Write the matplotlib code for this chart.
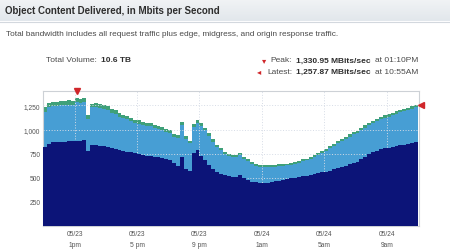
import matplotlib.pyplot as plt
import numpy as np
from matplotlib.colors import LinearSegmentedColormap

W, H = 450, 253
FONT = "Liberation Sans"

NAVY = "#0C1478"
LIGHT = "#479ED4"
GREEN = "#3FA079"
RED = "#D0262A"
INK = "#2E2E2E"
MUTED = "#4A4A4A"
GRID = "#D6DCE6"
FRAME = "#CDD1D6"

# 15-minute samples, 05/23 11:00 -> 05/24 10:45
START_HOUR = 11.0
STEP_HOURS = 0.25

total = [1230, 1275, 1290, 1285, 1300, 1295, 1305, 1300, 1331, 1318, 1328, 1150,
         1270, 1275, 1262, 1250, 1240, 1215, 1200, 1170, 1155, 1140, 1120, 1100,
         1095, 1080, 1070, 1065, 1050, 1040, 1030, 1010, 995, 955, 940, 1075,
         930, 885, 1060, 1100, 1070, 1020, 960, 900, 845, 810, 770, 745,
         738, 735, 755, 720, 690, 665, 645, 632, 628, 630, 632, 635,
         638, 642, 648, 652, 668, 678, 690, 700, 715, 735, 755, 778,
         800, 830, 855, 880, 905, 925, 950, 975, 990, 1020, 1045, 1070,
         1090, 1110, 1135, 1150, 1160, 1175, 1190, 1205, 1215, 1225, 1240, 1258]

edge = [820, 855, 870, 868, 875, 872, 880, 878, 885, 882, 890, 780,
        840, 838, 830, 825, 818, 810, 800, 790, 780, 772, 765, 755,
        745, 738, 730, 722, 718, 712, 705, 695, 680, 655, 620, 715,
        595, 570, 760, 790, 730, 680, 630, 590, 560, 540, 525, 515,
        510, 505, 530, 495, 475, 460, 452, 446, 442, 448, 455, 462,
        470, 478, 487, 495, 502, 508, 515, 522, 533, 540, 548, 556,
        562, 575, 592, 605, 615, 625, 640, 655, 668, 690, 720, 745,
        765, 782, 795, 805, 812, 820, 828, 835, 842, 850, 860, 872]

origin = [45, 45, 45, 45, 45, 45, 45, 45, 45, 45, 45, 40,
          40, 40, 40, 38, 38, 38, 36, 36, 36, 35, 35, 35,
          34, 34, 33, 33, 32, 32, 32, 30, 30, 30, 30, 30,
          30, 28, 30, 30, 30, 28, 28, 26, 26, 25, 25, 24,
          24, 22, 22, 22, 20, 20, 20, 20, 20, 20, 20, 20,
          20, 20, 20, 20, 20, 20, 20, 20, 22, 22, 22, 22,
          22, 22, 24, 24, 24, 24, 25, 25, 25, 25, 25, 25,
          25, 25, 25, 25, 25, 25, 25, 25, 25, 25, 25, 25]

x_ticks = [13, 17, 21, 25, 29, 33]
x_labels = ["05/23\n1pm", "05/23\n5 pm", "05/23\n9 pm", "05/24\n1am", "05/24\n5am", "05/24\n9am"]
y_ticks = [250, 500, 750, 1000, 1250]
y_labels = ["250", "500", "750", "1,000", "1,250"]

peak_hour, peak_value = 13 + 10 / 60, 1330.95
latest_value = 1257.87


def fx(px):
    return px / W


def fy(py):
    return 1 - py / H


def width_of(t):
    return t.get_window_extent(fig.canvas.get_renderer()).width


def fit_width(t, target):
    t.set_fontsize(t.get_fontsize() * target / width_of(t))


plt.rcParams["font.family"] = [FONT, "DejaVu Sans"]
fig = plt.figure(figsize=(W / 100, H / 100), dpi=100)
fig.patch.set_facecolor("white")

# header band
hax = fig.add_axes([0, fy(22), 1, 22 / H])
cmap = LinearSegmentedColormap.from_list("hdr", ["#F1F3F5", "#E2E7EC"])
hax.imshow(np.linspace(0, 1, 50).reshape(-1, 1), aspect="auto", cmap=cmap)
hax.set_axis_off()
fig.add_artist(plt.Line2D([0, 1], [fy(22.5), fy(22.5)], color="#D3D8DE", lw=0.8))

ax = fig.add_axes([fx(43), fy(227), fx(419) - fx(43), (227 - 92) / H])

total = np.array(total, dtype=float)
edge = np.array(edge, dtype=float)
origin = np.array(origin, dtype=float)
hours = START_HOUR + STEP_HOURS * np.arange(len(total))
xe = np.append(hours, hours[-1] + STEP_HOURS)


def ext(a):
    return np.append(a, a[-1])


ax.fill_between(xe, 0, ext(total), step="post", color=GREEN, lw=0, zorder=1)
ax.fill_between(xe, 0, ext(total - origin), step="post", color=LIGHT, lw=0, zorder=2)
ax.fill_between(xe, 0, ext(edge), step="post", color=NAVY, lw=0, zorder=3)

ax.set_xlim(10.97, 35.07)
ax.set_ylim(0, 1400)
ax.set_xticks(x_ticks)
ax.set_xticklabels(x_labels, linespacing=1.75)
ax.set_yticks(y_ticks)
ax.set_yticklabels(y_labels)
ax.tick_params(length=0, labelsize=4.8, colors="#555555")
ax.tick_params(axis="x", pad=3)
ax.tick_params(axis="y", pad=2)
ax.grid(color=GRID, linestyle=(0, (1, 1.8)), linewidth=0.7, zorder=5)
ax.set_axisbelow(False)
for s in ax.spines.values():
    s.set_color(FRAME)
    s.set_linewidth(0.8)

ax.plot(peak_hour, 1400, marker="v", color=RED, ms=4.5, clip_on=False, zorder=6)
ax.plot(35.07 + 0.1, latest_value, marker="<", color=RED, ms=4.5, clip_on=False, zorder=6)

title = fig.text(fx(5), fy(11.5), "Object Content Delivered, in Mbits per Second",
                 fontsize=7, fontweight="bold", color=INK, va="center")
desc = fig.text(fx(6), fy(34), "Total bandwidth includes all request traffic plus edge, midgress, and origin response traffic.",
                fontsize=6, color=MUTED, va="center")
fig.canvas.draw()
fit_width(title, 215)
fit_width(desc, 336)

# size the info lines so value + time span the same 123 px as the reference
rows = [(61, "Peak:", "1,330.95 MBits/sec", "at 01:10PM", "\u25be", 266),
        (72, "Latest:", "1,257.87 MBits/sec", "at 10:55AM", "\u25c2", 261)]
v0 = fig.text(0, 0, rows[0][2], fontsize=6, fontweight="bold")
a0 = fig.text(0, 0, rows[0][3], fontsize=6)
fs = 6 * 119 / (width_of(v0) + width_of(a0))
v0.remove()
a0.remove()

for y, label, value, when, mark, mx in rows:
    fig.text(fx(292), fy(y), label, fontsize=fs, color=MUTED, va="center", ha="right")
    v = fig.text(fx(296), fy(y), value, fontsize=fs, fontweight="bold", color=INK, va="center")
    fig.text(fx(296 + width_of(v) + 4), fy(y), when, fontsize=fs, color=MUTED, va="center")
    fig.text(fx(mx), fy(y), mark, fontsize=fs, color=RED, va="center", ha="right", family="DejaVu Sans")

fig.text(fx(97), fy(61), "Total Volume:", fontsize=fs, color=MUTED, va="center", ha="right")
fig.text(fx(101), fy(61), "10.6 TB", fontsize=fs, color=INK, va="center", fontweight="bold")

fig.savefig("out.png", dpi=100, facecolor="white")
